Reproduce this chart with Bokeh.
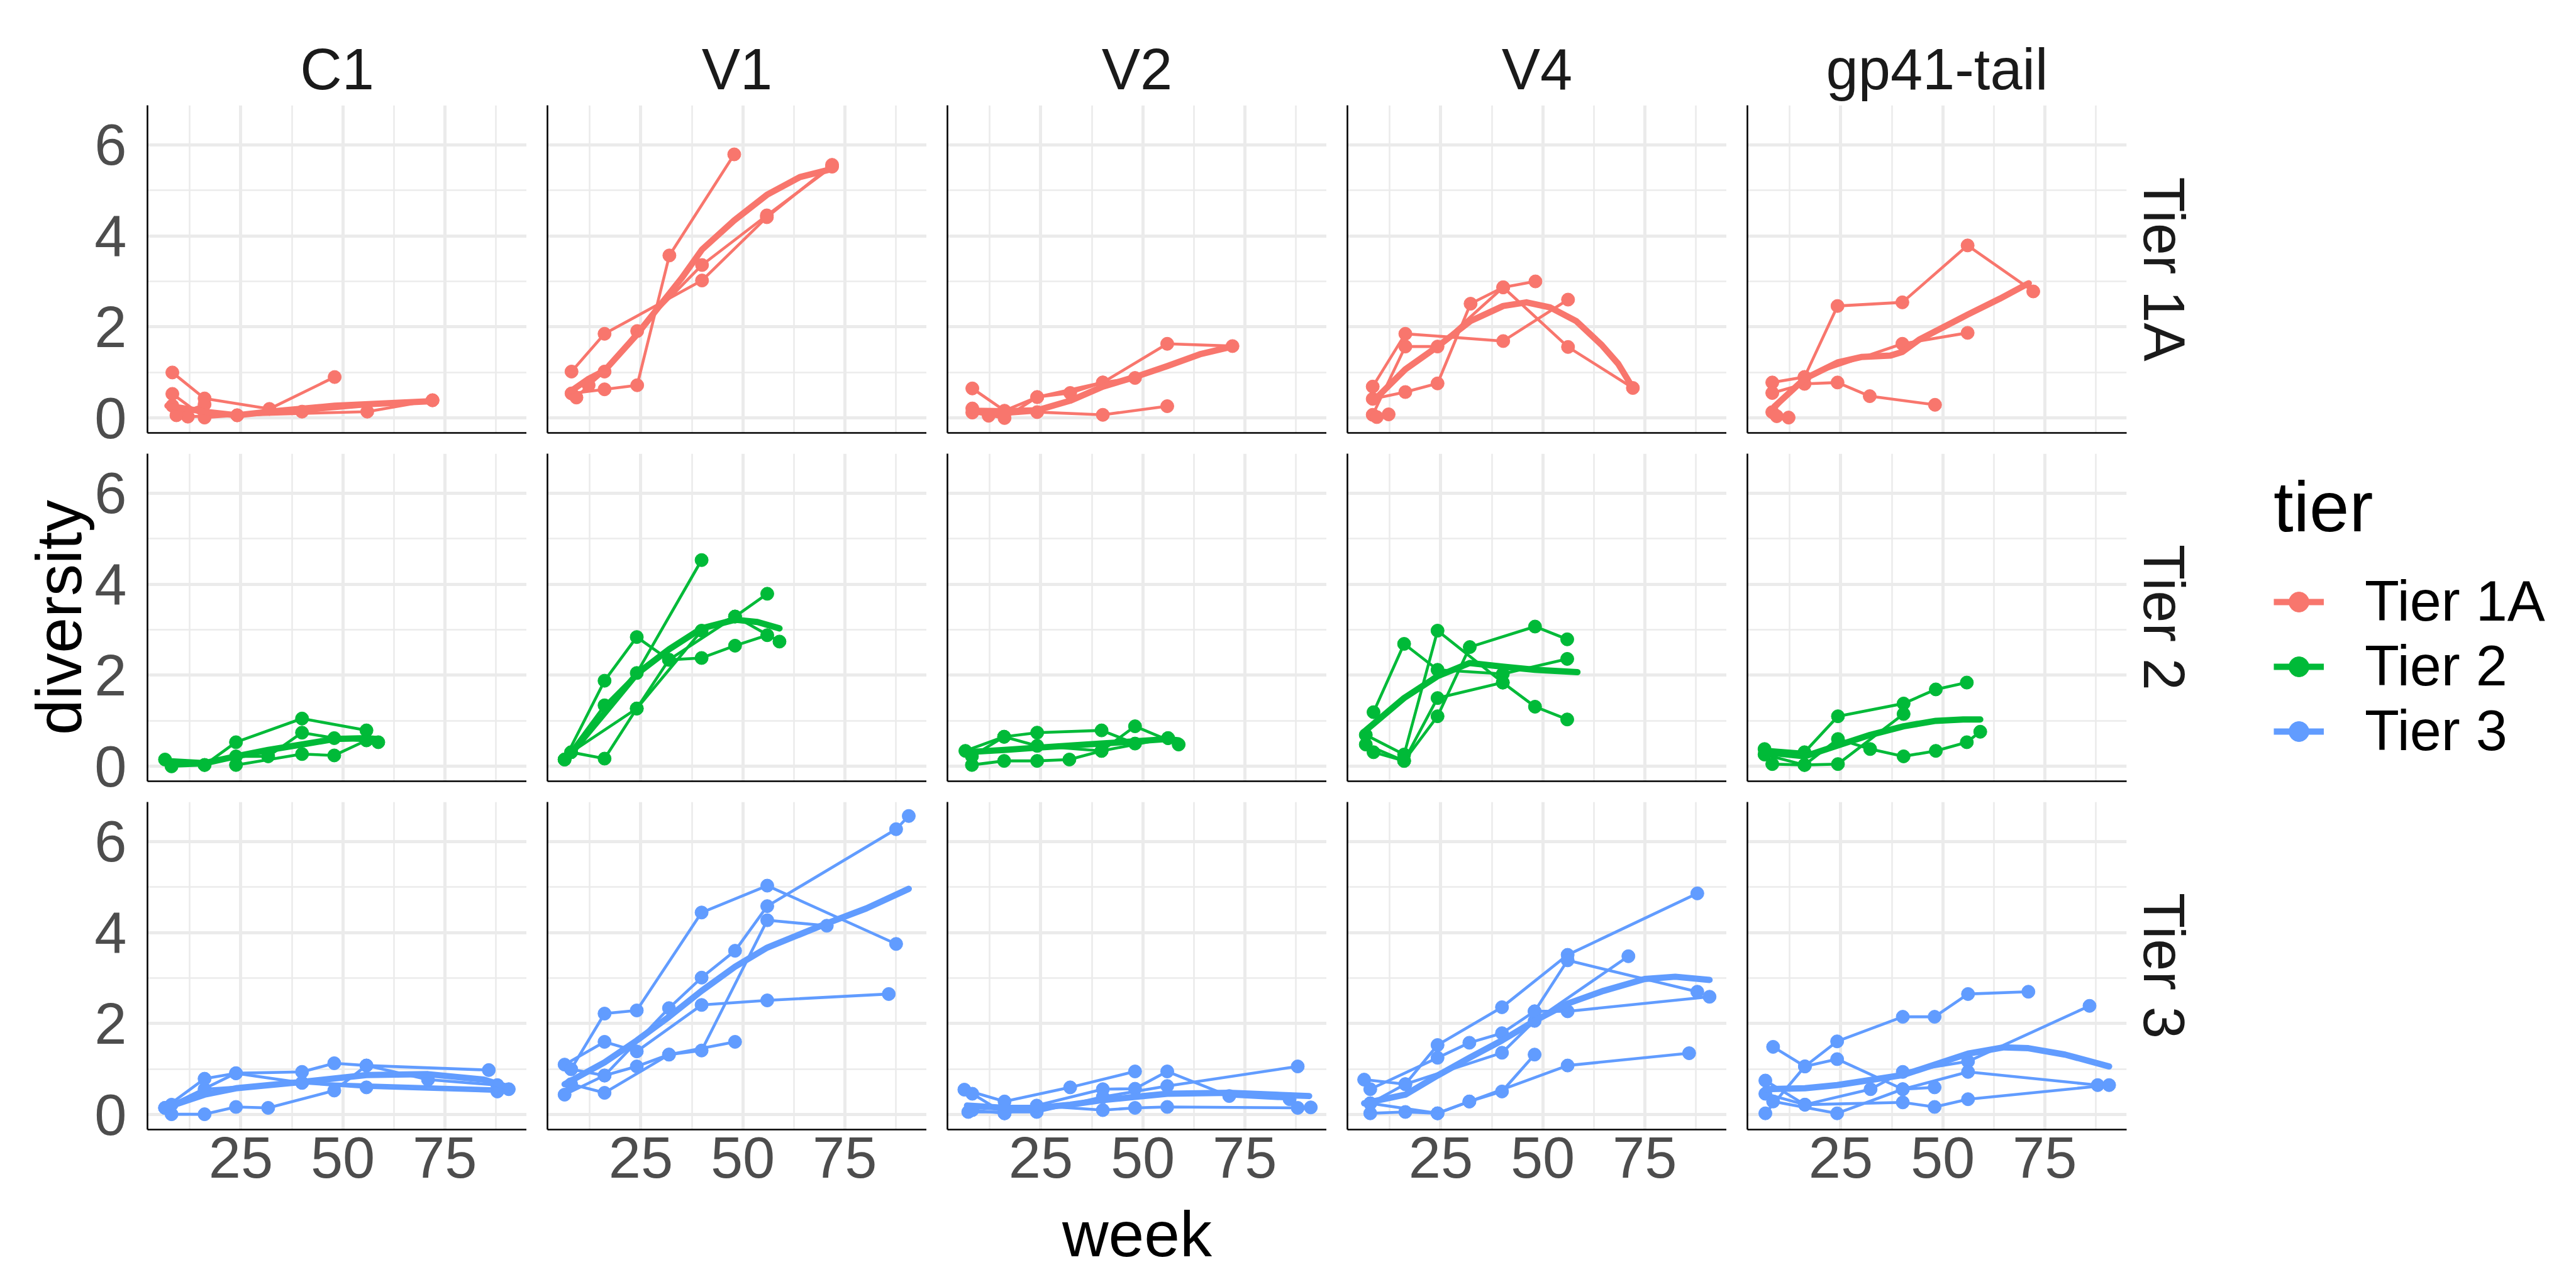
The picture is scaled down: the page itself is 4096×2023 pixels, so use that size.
from bokeh.plotting import figure
from bokeh.layouts import column, row
from bokeh.models import Range1d, FixedTicker, Title, Legend, LegendItem
from bokeh.embed import file_html
from bokeh.resources import INLINE

# ---------------- categories ----------------
regions = ["C1", "V1", "V2", "V4", "gp41-tail"]
tiers = ["Tier 1A", "Tier 2", "Tier 3"]
tier_colors = ["#F8766D", "#00BA38", "#619CFF"]
x_ticks = [25, 50, 75]
x_minor = [0, 12.5, 37.5, 62.5, 87.5, 100]
y_ticks = [0, 2, 4, 6]
y_minor = [1, 3, 5]

# ---------------- data: per panel, per patient (week, diversity) ----------------
# Tier 1A
T1A_C1_wk = [[8.2, 16.1, 32, 48], [8.2, 16.1, 24.1, 40, 72], [8.2, 12, 24.1, 56, 72], [9.2, 16.1]]
T1A_C1_dv = [[1.0, 0.43, 0.2, 0.9], [0.53, 0.01, 0.06, 0.14, 0.39], [0.27, 0.03, 0.06, 0.14, 0.39], [0.06, 0.3]]
T1A_C1_sm_wk = [7, 16, 24, 32, 48, 62, 72]
T1A_C1_sm_dv = [0.27, 0.14, 0.06, 0.14, 0.27, 0.33, 0.37]

T1A_V1_wk = [[8.0, 16.1, 40, 55.9, 71.9], [8.0, 16.1, 24.1, 32, 47.9], [9.2, 12.2, 16.1, 24.1, 40, 55.9, 71.9]]
T1A_V1_dv = [[1.02, 1.85, 3.02, 4.41, 5.56], [0.54, 0.63, 0.72, 3.57, 5.79], [0.45, 0.72, 1.02, 1.91, 3.36, 4.45, 5.52]]
T1A_V1_sm_wk = [8, 12, 16.1, 24.1, 29.3, 35, 40, 47.9, 55.9, 64, 71.5]
T1A_V1_sm_dv = [0.6, 0.85, 1.04, 1.84, 2.43, 3.07, 3.7, 4.34, 4.9, 5.29, 5.46]

T1A_V2_wk = [[8.2, 16.1, 24.1, 32.2, 40.2, 56, 72], [8.2, 12.2, 24.1, 40.2, 56], [8.2, 16.1, 24.1, 40.2, 48.1]]
T1A_V2_dv = [[0.65, 0.16, 0.46, 0.55, 0.78, 1.63, 1.58], [0.21, 0.05, 0.13, 0.07, 0.26], [0.12, 0.0, 0.46, 0.78, 0.88]]
T1A_V2_sm_wk = [8.2, 16, 24.1, 32.2, 40.2, 48.1, 56, 64, 72]
T1A_V2_sm_dv = [0.16, 0.15, 0.17, 0.38, 0.69, 0.9, 1.14, 1.4, 1.57]

T1A_V4_wk = [[8.3, 16.3, 40.3, 56.2], [8.3, 16.3, 24.2, 40.3, 56.2, 72.1], [8.3, 16.3, 24.2, 32.3, 40.3, 48.2], [9.3, 12.2]]
T1A_V4_dv = [[0.69, 1.85, 1.69, 2.6], [0.07, 1.57, 1.57, 2.87, 1.56, 0.66], [0.42, 0.57, 0.76, 2.51, 2.87, 3.0], [0.02, 0.08]]
T1A_V4_sm_wk = [8.3, 16.3, 24.2, 32.3, 40.3, 46, 51.8, 58.2, 64.5, 68.5, 72.1]
T1A_V4_sm_dv = [0.36, 1.07, 1.57, 2.13, 2.46, 2.54, 2.43, 2.13, 1.6, 1.19, 0.66]

T1A_GP_wk = [[8.2, 16.1, 24.2, 40.1, 56.1, 72.2], [8.2, 16.1, 24.2, 32.1, 48.1], [8.2, 16.1, 40.1, 56.1], [9.3, 12.2]]
T1A_GP_dv = [[0.78, 0.9, 2.46, 2.54, 3.79, 2.78], [0.55, 0.75, 0.78, 0.48, 0.29], [0.13, 0.9, 1.63, 1.87], [0.04, 0.01]]
T1A_GP_sm_wk = [8.7, 16.1, 24.2, 30, 37.1, 40.1, 44.2, 56.1, 64, 71.1]
T1A_GP_sm_dv = [0.25, 0.86, 1.22, 1.34, 1.37, 1.45, 1.72, 2.27, 2.62, 2.96]

# Tier 2
T2_C1_wk = [[6.4, 16.1, 23.8, 40, 55.8], [8.0, 16.1, 23.8, 31.7, 40, 47.9, 58.7], [23.8, 40, 47.9, 55.8]]
T2_C1_dv = [[0.15, 0.03, 0.53, 1.05, 0.79], [0.0, 0.03, 0.22, 0.22, 0.74, 0.62, 0.53], [0.03, 0.27, 0.24, 0.57]]
T2_C1_sm_wk = [6.4, 16.1, 23.8, 31.7, 40, 47.9, 55.8, 58.7]
T2_C1_sm_dv = [0.12, 0.07, 0.22, 0.36, 0.48, 0.6, 0.62, 0.6]

T2_V1_wk = [[6.3, 16.1, 24, 31.9, 39.9, 48.1, 56], [7.9, 16.1, 24, 39.9, 48.1, 59], [6.3, 16.1, 24, 39.9], [7.9, 24, 31.9, 48.1, 56]]
T2_V1_dv = [[0.15, 1.88, 2.84, 2.34, 2.38, 2.65, 2.88], [0.31, 0.17, 1.27, 2.98, 3.29, 2.74], [0.15, 1.34, 2.05, 4.53], [0.31, 1.27, 2.34, 3.29, 3.79]]
T2_V1_sm_wk = [7.3, 16.1, 24, 31.9, 39.9, 48.1, 53.6, 59]
T2_V1_sm_dv = [0.22, 1.17, 2.03, 2.57, 3.03, 3.22, 3.17, 3.03]

T2_V2_wk = [[6.5, 16, 24.1, 39.9, 48.1, 56.2], [8.1, 16, 24.1, 32, 39.9, 48.1, 58.8], [8.1, 16, 24.1, 39.9, 56.2]]
T2_V2_dv = [[0.34, 0.65, 0.74, 0.79, 0.5, 0.62], [0.03, 0.12, 0.12, 0.15, 0.34, 0.88, 0.48], [0.22, 0.65, 0.45, 0.34, 0.62]]
T2_V2_sm_wk = [6.5, 16, 24.1, 39.9, 56.2, 58.8]
T2_V2_sm_dv = [0.31, 0.36, 0.41, 0.5, 0.6, 0.57]

T2_V4_wk = [[8.5, 16, 24.2, 40.2, 56], [6.6, 16, 24.2, 40.2, 48.1, 56], [6.6, 16, 24.2, 32.1, 48.1, 56], [8.5, 16, 24.2, 40.2]]
T2_V4_dv = [[1.19, 2.69, 2.12, 2.03, 2.36], [0.69, 0.26, 2.98, 1.84, 1.31, 1.03], [0.48, 0.12, 1.1, 2.62, 3.07, 2.79], [0.31, 0.12, 1.5, 1.84]]
T2_V4_sm_wk = [6.6, 16, 24.2, 32.1, 40.2, 48.1, 58.5]
T2_V4_sm_dv = [0.79, 1.5, 1.98, 2.27, 2.19, 2.12, 2.07]

T2_GP_wk = [[6.3, 16.1, 24.3, 40.4, 48.3, 55.9], [8.2, 16.1, 24.3, 32.2, 40.4, 48.3, 55.9, 59.2], [6.3, 16.1, 24.3, 40.4]]
T2_GP_dv = [[0.38, 0.31, 1.1, 1.38, 1.69, 1.84], [0.05, 0.03, 0.6, 0.38, 0.22, 0.34, 0.53, 0.76], [0.26, 0.03, 0.05, 1.15]]
T2_GP_sm_wk = [6.3, 16.1, 24.3, 32.2, 40.4, 48.3, 55, 59.2]
T2_GP_sm_dv = [0.31, 0.22, 0.46, 0.69, 0.88, 1.0, 1.03, 1.03]

# Tier 3
T3_C1_wk = [[6.4, 16.1, 23.8, 40, 47.9, 55.8, 70.9, 87.9], [8.0, 16.1, 40, 55.8, 87.9], [8.0, 16.1, 23.8, 31.7, 47.9, 55.8, 85.8], [6.4, 23.8, 40, 90.7]]
T3_C1_dv = [[0.15, 0.79, 0.91, 0.94, 1.13, 1.08, 0.77, 0.65], [0.22, 0.56, 0.7, 0.6, 0.51], [0.01, 0.01, 0.17, 0.15, 0.53, 1.08, 0.98], [0.15, 0.91, 0.7, 0.56]]
T3_C1_sm_wk = [6.4, 16.1, 23.8, 40, 55.8, 70.9, 84.6, 90.7]
T3_C1_sm_dv = [0.15, 0.44, 0.58, 0.72, 0.87, 0.89, 0.77, 0.6]

T3_V1_wk = [[7.9, 16.1, 24, 39.9, 56, 87.6], [6.3, 16.1, 31.9, 39.9, 48.1, 56, 87.6, 90.7], [7.9, 16.1, 31.9, 39.9, 56, 70.6], [6.3, 16.1, 24, 39.9, 56, 85.8], [7.9, 16.1, 24, 31.9, 48.1]]
T3_V1_dv = [[1.0, 2.22, 2.29, 4.44, 5.03, 3.75], [0.44, 0.86, 2.34, 3.01, 3.6, 4.58, 6.27, 6.56], [0.67, 0.48, 1.32, 1.41, 4.27, 4.15], [1.1, 1.6, 1.39, 2.41, 2.51, 2.65], [1.0, 0.86, 1.06, 1.32, 1.6]]
T3_V1_sm_wk = [6.3, 16.1, 24, 31.9, 39.9, 48.1, 56, 70.6, 80.3, 90.7]
T3_V1_sm_dv = [0.67, 1.15, 1.63, 2.15, 2.72, 3.25, 3.67, 4.2, 4.53, 4.96]

T3_V2_wk = [[6.25, 16.1, 32.2, 48.1], [8.2, 16.1, 40.2, 48.1, 56, 71.2, 86], [7.2, 24, 40.2, 56, 88], [8.2, 16.1, 24, 40.2, 48.1, 56, 88, 91.2]]
T3_V2_dv = [[0.55, 0.29, 0.6, 0.95], [0.46, 0.03, 0.56, 0.57, 0.95, 0.41, 0.34], [0.06, 0.06, 0.39, 0.63, 1.06], [0.1, 0.03, 0.2, 0.1, 0.15, 0.17, 0.15, 0.16]]
T3_V2_sm_wk = [6.9, 16.1, 24, 32.2, 40.2, 48.1, 56, 71.2, 90.8]
T3_V2_sm_dv = [0.2, 0.15, 0.15, 0.22, 0.32, 0.39, 0.46, 0.48, 0.41]

T3_V4_wk = [[6.2, 16.3, 24.2, 40, 56.1, 87.9], [7.7, 24.2, 32, 40, 48, 56.1, 87.9], [7.7, 16.3, 40, 48, 71], [7.7, 16.3, 24.2, 32, 40, 48], [7.7, 24.2, 32, 56.1, 85.9], [48, 56.1, 90.9]]
T3_V4_dv = [[0.77, 0.67, 1.53, 2.36, 3.51, 4.86], [0.56, 1.25, 1.58, 1.79, 2.27, 3.39, 2.7], [0.25, 0.67, 1.36, 2.06, 3.48], [0.03, 0.06, 0.03, 0.29, 0.51, 1.32], [0.25, 0.03, 0.29, 1.08, 1.35], [2.27, 2.27, 2.59]]
T3_V4_sm_wk = [6.2, 16.3, 24.2, 32, 40, 48, 56.1, 64.9, 75, 82.5, 90.9]
T3_V4_sm_dv = [0.25, 0.44, 0.86, 1.25, 1.63, 2.06, 2.44, 2.72, 2.98, 3.03, 2.96]

T3_GP_wk = [[8.4, 16.2, 24.1, 40.2, 48], [6.5, 16.2, 24.1, 40.2, 48, 56.2, 71], [6.5, 16.2, 32.3, 40.2, 56.2, 86], [8.4, 24.1, 40.2, 56.2, 88], [6.5, 16.2, 40.2, 48, 56.2, 90.8]]
T3_GP_dv = [[1.49, 1.06, 1.22, 0.56, 0.6], [0.03, 1.06, 1.61, 2.15, 2.15, 2.65, 2.7], [0.46, 0.22, 0.56, 0.94, 1.17, 2.39], [0.29, 0.03, 0.56, 0.94, 0.65], [0.75, 0.22, 0.27, 0.17, 0.34, 0.65]]
T3_GP_sm_wk = [6.5, 16.2, 24.1, 40.2, 48, 56.2, 65, 71, 80, 90.8]
T3_GP_sm_dv = [0.56, 0.58, 0.65, 0.87, 1.1, 1.34, 1.48, 1.46, 1.32, 1.06]

panel_data = [
    [(T1A_C1_wk, T1A_C1_dv, T1A_C1_sm_wk, T1A_C1_sm_dv),
     (T1A_V1_wk, T1A_V1_dv, T1A_V1_sm_wk, T1A_V1_sm_dv),
     (T1A_V2_wk, T1A_V2_dv, T1A_V2_sm_wk, T1A_V2_sm_dv),
     (T1A_V4_wk, T1A_V4_dv, T1A_V4_sm_wk, T1A_V4_sm_dv),
     (T1A_GP_wk, T1A_GP_dv, T1A_GP_sm_wk, T1A_GP_sm_dv)],
    [(T2_C1_wk, T2_C1_dv, T2_C1_sm_wk, T2_C1_sm_dv),
     (T2_V1_wk, T2_V1_dv, T2_V1_sm_wk, T2_V1_sm_dv),
     (T2_V2_wk, T2_V2_dv, T2_V2_sm_wk, T2_V2_sm_dv),
     (T2_V4_wk, T2_V4_dv, T2_V4_sm_wk, T2_V4_sm_dv),
     (T2_GP_wk, T2_GP_dv, T2_GP_sm_wk, T2_GP_sm_dv)],
    [(T3_C1_wk, T3_C1_dv, T3_C1_sm_wk, T3_C1_sm_dv),
     (T3_V1_wk, T3_V1_dv, T3_V1_sm_wk, T3_V1_sm_dv),
     (T3_V2_wk, T3_V2_dv, T3_V2_sm_wk, T3_V2_sm_dv),
     (T3_V4_wk, T3_V4_dv, T3_V4_sm_wk, T3_V4_sm_dv),
     (T3_GP_wk, T3_GP_dv, T3_GP_sm_wk, T3_GP_sm_dv)],
]

# ---------------- layout / style ----------------
FONT = "Liberation Sans"
FRAME_W, FRAME_H = 603, 521
LEFT0, GAP, TOP0, BOTTOM_LAST, RIGHT_LAST = 234, 33, 167, 227, 140
TOTAL_W, TOTAL_H = 4096, 2023
X_RANGE = (2.1, 95.1)
Y_RANGE = (-0.327, 6.867)
GRID_COLOR = "#EBEBEB"
TICK_FONT = "92px"
AXIS_TITLE_FONT = "102px"
LEGEND_TITLE_FONT = "114px"
LINE_W, SMOOTH_W, POINT_SIZE = 4.6, 10, 21

grid_w = 0
rows_out = []
for ri, tier in enumerate(tiers):
    col = tier_colors[ri]
    figs = []
    row_w = 0
    for ci, reg in enumerate(regions):
        left = LEFT0 if ci == 0 else GAP
        right = RIGHT_LAST if ci == len(regions) - 1 else 0
        top = TOP0 if ri == 0 else 0
        bottom = BOTTOM_LAST if ri == len(tiers) - 1 else GAP
        p = figure(width=left + FRAME_W + right, height=top + FRAME_H + bottom,
                   x_range=Range1d(*X_RANGE), y_range=Range1d(*Y_RANGE),
                   output_backend="svg", toolbar_location=None, tools="",
                   min_border_left=left, min_border_right=right,
                   min_border_top=top, min_border_bottom=bottom)
        row_w += left + FRAME_W + right
        p.outline_line_color = None
        p.background_fill_color = "white"
        p.border_fill_color = "white"

        # grids always keep the full set of lines
        p.xgrid.ticker = FixedTicker(ticks=x_ticks, minor_ticks=x_minor)
        p.ygrid.ticker = FixedTicker(ticks=y_ticks, minor_ticks=y_minor)
        for g in (p.xgrid, p.ygrid):
            g.grid_line_color = GRID_COLOR
            g.grid_line_width = 5
            g.minor_grid_line_color = GRID_COLOR
            g.minor_grid_line_width = 2.6
        # axes: only outer panels carry tick labels
        if ri == len(tiers) - 1:
            p.xaxis.ticker = FixedTicker(ticks=x_ticks)
        else:
            p.xaxis.ticker = FixedTicker(ticks=[])
        if ci == 0:
            p.yaxis.ticker = FixedTicker(ticks=y_ticks)
        else:
            p.yaxis.ticker = FixedTicker(ticks=[])
        for ax in (p.xaxis, p.yaxis):
            ax.axis_line_color = "black"
            ax.axis_line_width = 2.6
            ax.major_tick_line_color = None
            ax.minor_tick_line_color = None
            ax.major_tick_out = 0
            ax.major_tick_in = 0
            ax.minor_tick_out = 0
            ax.minor_tick_in = 0
            ax.major_label_text_font = FONT
            ax.major_label_text_color = "#4D4D4D"
            ax.major_label_text_font_size = TICK_FONT
            ax.axis_label_text_font = FONT
            ax.axis_label_text_font_style = "normal"
            ax.axis_label_text_color = "black"
            ax.axis_label_text_font_size = AXIS_TITLE_FONT
        p.yaxis.major_label_standoff = 33
        p.xaxis.major_label_standoff = 12
        if ri == 1 and ci == 0:
            p.yaxis.axis_label = "diversity"
            p.yaxis.axis_label_standoff = -4
        if ri == len(tiers) - 1 and ci == 2:
            p.xaxis.axis_label = "week"
            p.xaxis.axis_label_standoff = 30

        if ri == 0:
            p.add_layout(Title(text=reg, align="center", text_font=FONT, text_font_size=TICK_FONT,
                               text_font_style="normal", text_color="#1A1A1A", standoff=14), "above")
        if ci == len(regions) - 1:
            p.add_layout(Title(text=tier, align="center", text_font=FONT, text_font_size=TICK_FONT,
                               text_font_style="normal", text_color="#1A1A1A", standoff=17), "right")

        wk, dv, sm_wk, sm_dv = panel_data[ri][ci]
        p.multi_line(xs=wk, ys=dv, line_color=col, line_width=LINE_W, line_join="round")
        px = [v for s in wk for v in s]
        py = [v for s in dv for v in s]
        p.scatter(x=px, y=py, size=POINT_SIZE, fill_color=col, line_color=col)
        p.line(x=sm_wk, y=sm_dv, line_color=col, line_width=SMOOTH_W, line_join="round", line_cap="round")
        figs.append(p)
    grid_w = row_w
    rows_out.append(row(*figs))

# ---------------- legend in its own figure ----------------
leg_w = TOTAL_W - grid_w
lp = figure(width=leg_w, height=TOTAL_H, x_range=Range1d(-2, -1), y_range=Range1d(-2, -1),
            output_backend="svg", toolbar_location=None, tools="",
            min_border_left=0, min_border_right=0, min_border_top=0, min_border_bottom=0)
lp.axis.visible = False
lp.grid.visible = False
lp.outline_line_color = None
lp.background_fill_color = "white"
lp.border_fill_color = "white"
items = []
for ti, (t, c) in enumerate(zip(tiers, tier_colors)):
    # proxy renderers; their data lies outside the (empty) visible range
    wk0 = panel_data[ti][0][0][0]
    dv0 = panel_data[ti][0][1][0]
    lr = lp.line(x=wk0, y=dv0, line_color=c, line_width=SMOOTH_W)
    sr = lp.scatter(x=wk0, y=dv0, size=17, fill_color=c, line_color=c)
    items.append(LegendItem(label=t, renderers=[lr, sr]))
# location = bottom-left corner of the legend box, in px from the figure's bottom-left
leg = Legend(items=items, title="tier", location=(94, 809),
             title_text_font=FONT, title_text_font_size=LEGEND_TITLE_FONT,
             title_text_font_style="normal", title_text_color="black",
             label_text_font=FONT, label_text_font_size="90px", label_text_color="black",
             glyph_width=80, glyph_height=100, label_height=100, spacing=0,
             label_standoff=65, padding=0, margin=0, title_standoff=34,
             border_line_color=None, background_fill_alpha=0)
lp.add_layout(leg)

layout = row(column(*rows_out), lp)
open("out.html", "w").write(file_html(layout, INLINE))
